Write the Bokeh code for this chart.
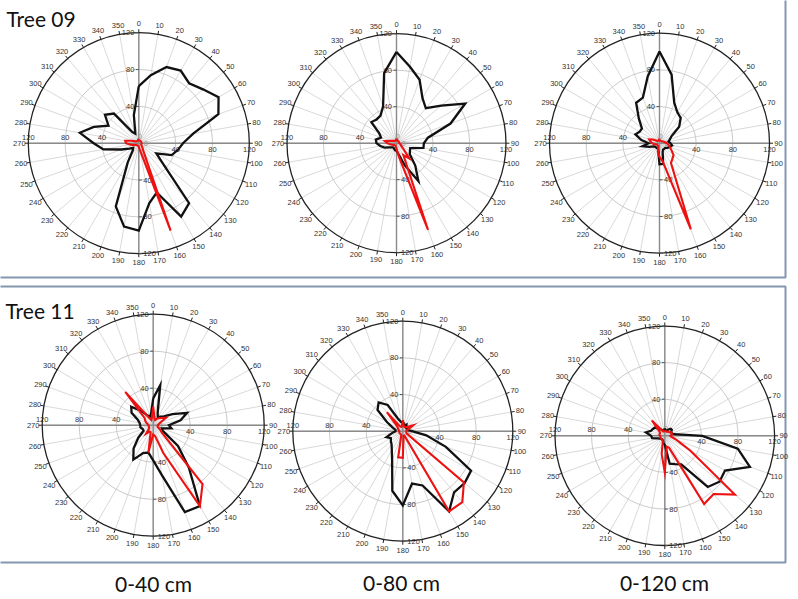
import numpy as np
from bokeh.plotting import figure
from bokeh.models import Range1d
from bokeh.embed import file_html
from bokeh.resources import INLINE
from bokeh.core.properties import value

# ---------------- data ----------------
angles = list(range(0, 360, 10))          # direction bins (degrees)
ring_values = [40, 80, 120]               # radial tick labels
tree_labels = ["Tree 09", "Tree 11"]
depth_labels = ["0-40 cm", "0-80 cm", "0-120 cm"]

t09_40_black = [62, 75, 88, 91, 85, 91, 100, 92, 60, 48, 43, 38, 22, 34, 85, 92, 57, 66,
                95, 92, 73, 24, 10, 8, 12, 20, 39, 49, 65, 52, 38, 48, 42, 14, 11, 31]
t09_40_red = [4, 3, 3, 3, 3, 3, 3, 3, 3, 3, 3, 3, 3, 4, 6, 10, 101, 8,
              4, 3, 3, 3, 3, 3, 4, 6, 9, 14, 15, 8, 4, 3, 3, 3, 3, 4]

t09_80_black = [100, 85, 74, 57, 50, 64, 87, 63, 35, 30, 30, 16, 17, 19, 32, 48, 25, 12,
                8, 8, 7, 6, 6, 7, 9, 14, 18, 22, 23, 18, 22, 36, 34, 35, 43, 78]
t09_80_red = [4, 4, 3, 3, 3, 3, 3, 3, 3, 3, 4, 5, 6, 10, 22, 15, 101, 15,
              6, 4, 3, 3, 3, 3, 4, 5, 7, 10, 13, 8, 5, 4, 3, 3, 3, 4]

t09_120_black = [100, 76, 47, 39, 36, 28, 15, 12, 10, 12, 14, 12, 10, 8, 8, 8, 10, 23,
                 23, 8, 6, 6, 6, 6, 7, 12, 19, 12, 20, 28, 25, 25, 35, 51, 53, 74]
t09_120_red = [4, 3, 3, 3, 3, 3, 4, 5, 6, 8, 10, 12, 15, 20, 22, 25, 100, 20,
               15, 10, 4, 3, 3, 3, 3, 4, 6, 8, 10, 12, 8, 4, 3, 3, 3, 4]

t11_40_black = [29, 44, 14, 10, 12, 15, 24, 39, 30, 17, 20, 10, 12, 35, 60, 101, 100, 55,
                38, 30, 32, 43, 33, 21, 12, 12, 14, 14, 15, 18, 27, 31, 20, 12, 10, 13]
t11_40_red = [20, 8, 6, 8, 10, 12, 16, 8, 6, 5, 5, 5, 8, 12, 83, 101, 32, 12,
              10, 30, 8, 8, 12, 6, 5, 5, 5, 5, 6, 8, 10, 12, 47, 10, 6, 8]

t11_80_black = [10, 8, 6, 8, 6, 5, 5, 5, 6, 10, 26, 50, 86, 88, 87, 101, 63, 58,
                81, 66, 34, 24, 19, 17, 15, 19, 12, 8, 8, 12, 20, 36, 41, 33, 14, 10]
t11_80_red = [12, 6, 5, 5, 6, 8, 13, 6, 4, 4, 4, 4, 5, 87, 101, 101, 5, 5,
              29, 29, 5, 4, 4, 4, 4, 4, 4, 4, 4, 5, 6, 8, 27, 6, 5, 6]

t11_120_black = [8, 6, 6, 8, 10, 10, 8, 8, 10, 41, 81, 99, 76, 78, 73, 36, 33, 31,
                 10, 8, 6, 5, 5, 5, 6, 8, 14, 15, 21, 16, 15, 14, 10, 8, 6, 6]
t11_120_red = [6, 5, 5, 5, 6, 6, 8, 8, 8, 6, 8, 14, 32, 100, 83, 86, 14, 12,
               40, 20, 6, 5, 5, 5, 5, 5, 5, 5, 6, 6, 6, 8, 22, 8, 5, 5]

# ---------------- layout (pixel space) ----------------
W, H = 798, 599
p = figure(width=W, height=H, output_backend="svg", toolbar_location=None,
           x_range=Range1d(0, W), y_range=Range1d(H, 0),
           min_border=0, outline_line_color=None)
p.axis.visible = False
p.grid.visible = False
p.background_fill_color = "white"

FONT = value("Liberation Sans")
TITLE_FONT = value("Lato")

# panel frames
p.quad(left=-10, right=785, top=-10, bottom=277, fill_color=None,
       line_color="#8497b0", line_width=2)
p.quad(left=-10, right=785, top=286, bottom=562, fill_color=None,
       line_color="#8497b0", line_width=2)

charts = [
    (138.3, 142.7, 110.5, t09_40_black, t09_40_red),
    (396.0, 142.7, 109.5, t09_80_black, t09_80_red),
    (659.0, 142.7, 110.0, t09_120_black, t09_120_red),
    (152.7, 424.7, 111.0, t11_40_black, t11_40_red),
    (402.3, 430.7, 110.0, t11_80_black, t11_80_red),
    (664.3, 435.3, 109.8, t11_120_black, t11_120_red),
]

th = np.radians(np.array(angles, dtype=float))

for cx, cy, R, black, red in charts:
    s = R / 120.0
    sx, sy = np.sin(th), -np.cos(th)
    # radial grid
    p.segment(x0=[cx] * len(th), y0=[cy] * len(th), x1=cx + R * sx, y1=cy + R * sy,
              line_color="#cfcfcf", line_width=0.8)
    # inner rings
    p.circle(x=[cx, cx], y=[cy, cy], radius=[ring_values[0] * s, ring_values[1] * s],
             fill_color=None, line_color="#c4c4c4", line_width=0.9)
    # axes
    p.segment(x0=[cx - R, cx], y0=[cy, cy - R], x1=[cx + R, cx], y1=[cy, cy + R],
              line_color="#8a8a8a", line_width=1.4)
    # outer ring
    p.circle(x=[cx], y=[cy], radius=[ring_values[2] * s], fill_color=None,
             line_color="#222222", line_width=1.3)
    # outer ticks
    p.segment(x0=cx + R * sx, y0=cy + R * sy, x1=cx + (R + 3.5) * sx, y1=cy + (R + 3.5) * sy,
              line_color="#222222", line_width=1)
    # degree labels
    p.text(x=cx + (R + 9) * sx, y=cy + (R + 9) * sy, text=[str(a) for a in angles],
           text_align="center", text_baseline="middle", text_font=FONT,
           text_font_size="7.5px", text_color="#333333")
    # radial labels on four axes
    rv = np.array(ring_values, dtype=float) * s
    lab = [str(v) for v in ring_values]
    n = len(lab)
    p.text(x=[cx - 4.5] * n, y=cy - rv, text=lab, text_align="right", text_baseline="middle",
           text_font=FONT, text_font_size="7.5px", text_color="#333333")
    p.text(x=[cx + 4.5] * n, y=cy + rv, text=lab, text_align="left", text_baseline="middle",
           text_font=FONT, text_font_size="7.5px", text_color="#333333")
    p.text(x=cx - rv, y=[cy - 3.5] * n, text=lab, text_align="center", text_baseline="bottom",
           text_font=FONT, text_font_size="7.5px", text_color="#333333")
    p.text(x=cx + rv, y=[cy + 3.5] * n, text=lab, text_align="center", text_baseline="top",
           text_font=FONT, text_font_size="7.5px", text_color="#333333")
    p.segment(x0=[cx - 3] * n, y0=cy - rv, x1=[cx] * n, y1=cy - rv, line_color="#555555")
    p.segment(x0=[cx] * n, y0=cy + rv, x1=[cx + 3] * n, y1=cy + rv, line_color="#555555")
    p.text(x=[cx + 5, cx - 1], y=[cy, cy - 7], text=["0", "0"], text_align="left",
           text_baseline="middle", text_font=FONT, text_font_size="7.5px", text_color="#9a9a9a")
    # data polygons
    for vals, col, lw in ((black, "#111111", 2.3), (red, "#ee1111", 2.1)):
        r = np.array(vals + vals[:1], dtype=float) * s
        t = np.append(th, th[0])
        p.line(x=cx + r * np.sin(t), y=cy - r * np.cos(t), line_color=col, line_width=lw,
               line_join="miter")

# titles and depth labels
p.text(x=[6, 5], y=[18, 310], text=tree_labels, text_align="left", text_baseline="alphabetic",
       text_font=TITLE_FONT, text_font_size="21px", text_color="#111111")
p.text(x=[153, 401, 664], y=[583, 582, 582], text=depth_labels, text_align="center",
       text_baseline="middle", text_font=TITLE_FONT, text_font_size="21px", text_color="#111111")

open("out.html", "w").write(file_html(p, INLINE))
